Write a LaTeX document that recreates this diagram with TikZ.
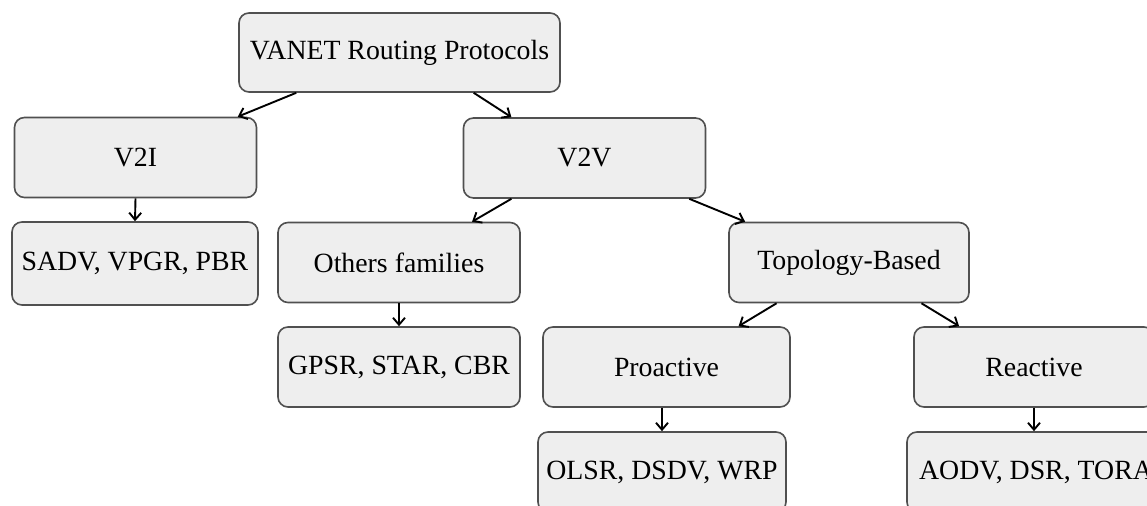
\documentclass[tikz,border=0pt]{standalone}
\usepackage{fontspec}
\setmainfont{Liberation Serif}
\usetikzlibrary{calc, arrows.meta}

\definecolor{boxfill}{HTML}{EEEEEE}
\definecolor{boxline}{HTML}{505050}

\begin{document}
\begin{tikzpicture}[
      x=0.5pt, y=-0.5pt,
      box/.style={draw=boxline, line width=0.8pt, fill=boxfill, rounded corners=5pt,
        minimum width=121pt, minimum height=40pt, font=\fontsize{13.9}{16}\selectfont},
      link/.style={-{Straight Barb[length=3.5pt, width=6pt]}, line width=0.95pt}
    ]

    % --- picture frame (boxes run off the right and bottom edges) ---
    \clip (0,0) rectangle (1147,506);

    % --- top level ---
    \node[box, minimum width=160.5pt, minimum height=39.5pt] (root) at (399.5,52.5) {VANET Routing Protocols};

    % --- second level ---
    \node[box] (v2i) at (135.5,157.5) {V2I};
    \node[box] (v2v) at (584.5,158) {V2V};

    % --- third level ---
    \node[box, minimum width=123pt, minimum height=41.5pt] (sadv) at (135,263.5) {SADV, VPGR, PBR};
    \node[box] (others) at (399,262.5) {Others families};
    \node[box, minimum width=120pt] (topo) at (849,262.5) {Topology-Based};

    % --- fourth level ---
    \node[box] (gpsr) at (399,367) {GPSR, STAR, CBR};
    \node[box, minimum width=123.5pt] (proactive) at (666.5,367) {Proactive};
    \node[box, minimum width=120pt] (reactive) at (1034,367) {Reactive};

    % --- fifth level ---
    \node[box, minimum width=124pt] (olsr) at (662,472) {OLSR, DSDV, WRP};
    \node[box, minimum width=129pt] (aodv) at (1036,472) {AODV, DSR, TORA};

    % --- connectors ---
    \draw[link] ($(root.south west)!.18!(root.south east)$) -- ($(v2i.north west)!.92!(v2i.north east)$);
    \draw[link] ($(root.south west)!.73!(root.south east)$) -- ($(v2v.north west)!.2!(v2v.north east)$);
    \draw[link] (v2i.south) -- (sadv.north);
    \draw[link] ($(v2v.south west)!.2!(v2v.south east)$) -- ($(others.north west)!.8!(others.north east)$);
    \draw[link] ($(v2v.south west)!.93!(v2v.south east)$) -- ($(topo.north west)!.07!(topo.north east)$);
    \draw[link] (others.south) -- (gpsr.north);
    \draw[link] ($(topo.south west)!.2!(topo.south east)$) -- ($(proactive.north west)!.79!(proactive.north east)$);
    \draw[link] ($(topo.south west)!.8!(topo.south east)$) -- ($(reactive.north west)!.19!(reactive.north east)$);
    \draw[link] (olsr.north |- proactive.south) -- (olsr.north);
    \draw[link] (reactive.south) -- (reactive.south |- aodv.north);

  \end{tikzpicture}
\end{document}
